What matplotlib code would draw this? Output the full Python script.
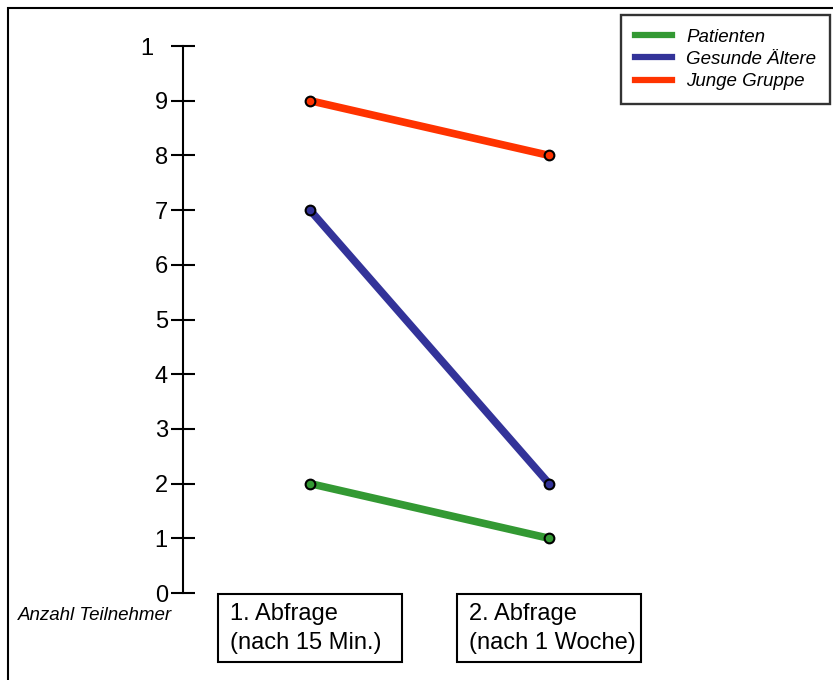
import matplotlib
matplotlib.use("Agg")
import matplotlib.pyplot as plt
from matplotlib.lines import Line2D
from matplotlib.patches import Rectangle
from matplotlib.transforms import ScaledTranslation

plt.rcParams["font.family"] = ["Liberation Sans", "DejaVu Sans"]

# Data
groups = ["Patienten", "Gesunde Ältere", "Junge Gruppe"]
colors = ["#339933", "#333399", "#FF3300"]
first_query = [2, 7, 9]
second_query = [1, 2, 8]
categories = ["1. Abfrage\n(nach 15 Min.)", "2. Abfrage\n(nach 1 Woche)"]
y_ticks = list(range(0, 11))
y_tick_labels = ["0", "1", "2", "3", "4", "5", "6", "7", "8", "9", "1"]
y_label = "Anzahl Teilnehmer"

W, H = 833, 680
fig = plt.figure(figsize=(W / 100, H / 100), dpi=100)
ax = fig.add_axes([0, 0, 1, 1])
ax.set_facecolor("none")

# map data to the canvas: y 0..10 spans the vertical scale, categories at 0 and 1
ax.set_xlim(-1.297, 2.188)
ax.set_ylim(-1.5905, 10.841)

x_pos = list(range(len(categories)))
for g, c, a, b in zip(groups, colors, first_query, second_query):
    ax.plot(x_pos, [a, b], color=c, lw=5.5, solid_capstyle="butt", zorder=3)
    ax.plot(x_pos, [a, b], ls="none", marker="o", ms=7, mfc=c, mec="black",
            mew=1.5, zorder=4)

# free-standing vertical scale
for s in ["top", "right", "bottom"]:
    ax.spines[s].set_visible(False)
ax.spines["left"].set_position(("data", -0.531))
ax.spines["left"].set_bounds(0, 10)
ax.spines["left"].set_linewidth(1.5)
ax.set_yticks(y_ticks)
ax.set_yticklabels(y_tick_labels)
ax.set_xticks([])
ax.tick_params(axis="y", direction="inout", length=17, width=1.5,
               labelsize=17, pad=2.5)
top_label = ax.get_yticklabels()[-1]
top_label.set_transform(top_label.get_transform() +
                        ScaledTranslation(-0.14, 0, fig.dpi_scale_trans))

# category boxes below the scale
box_w = 0.766
for xp, cat in zip(x_pos, categories):
    ax.add_patch(Rectangle((xp - box_w / 2, -1.261), box_w, 1.243,
                           fill=False, ec="black", lw=1.5, zorder=2))
    ax.text(xp - box_w / 2 + 0.05, -0.65, cat, ha="left", va="center",
            fontsize=17, linespacing=1.38)

fig.text(18 / W, 1 - 615 / H, y_label, style="italic", fontsize=13.5,
         ha="left", va="center")

# legend
handles = [Line2D([], [], color=c, lw=4.5) for c in colors]
leg = fig.legend(handles, groups, loc="upper right",
                 bbox_to_anchor=(830 / W, 1 - 15 / H),
                 bbox_transform=fig.transFigure, frameon=True, fancybox=False,
                 prop={"style": "italic", "size": 13.5}, handlelength=2.0,
                 handletextpad=0.75, labelspacing=0.28, borderpad=0.72,
                 borderaxespad=0)
leg.get_frame().set_edgecolor("black")
leg.get_frame().set_linewidth(1.7)

# outer frame
fig.patches.append(Rectangle((8 / W, -0.05), 1.0, 1 - 8 / H + 0.05,
                             transform=fig.transFigure, fill=False,
                             ec="black", lw=1.5))

fig.savefig("out.png", dpi=100)
